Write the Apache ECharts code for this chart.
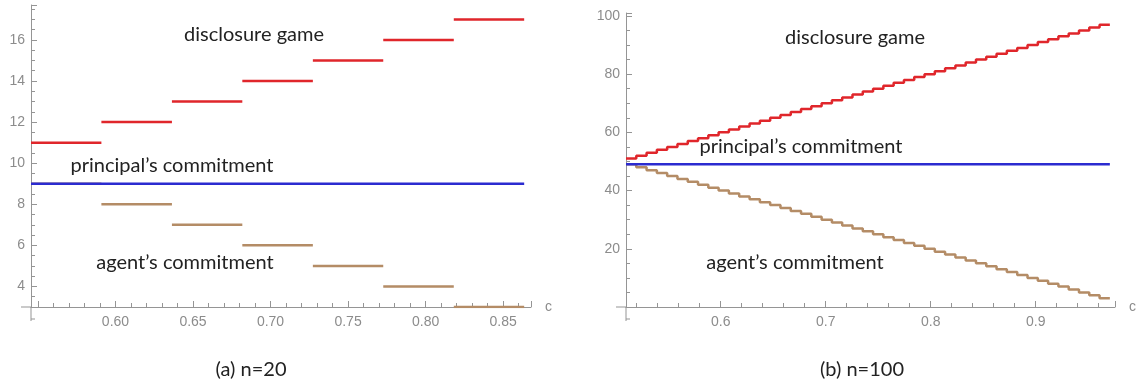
<!DOCTYPE html>
<html>
<head>
<meta charset="utf-8">
<script src="https://cdn.jsdelivr.net/npm/echarts@6/dist/echarts.min.js"></script>
<style>
  html, body { margin: 0; padding: 0; background: #fff; }
  #main { width: 1146px; height: 387px; }
</style>
</head>
<body>
<div id="main"></div>
<script>
// (a) n=20 : step breakpoints on c and the value held on each step
const cA = [0.5455, 0.5909, 0.6364, 0.6818, 0.7273, 0.7727, 0.8182, 0.8636];
const gameA = [11, 12, 13, 14, 15, 16, 17];
const agentA = [9, 8, 7, 6, 5, 4, 3];
const principalA = 9;

// (b) n=100
const cB = [0.5098, 0.5196, 0.5294, 0.5392, 0.5490, 0.5588, 0.5686, 0.5784, 0.5882, 0.5980,
  0.6078, 0.6176, 0.6275, 0.6373, 0.6471, 0.6569, 0.6667, 0.6765, 0.6863, 0.6961,
  0.7059, 0.7157, 0.7255, 0.7353, 0.7451, 0.7549, 0.7647, 0.7745, 0.7843, 0.7941,
  0.8039, 0.8137, 0.8235, 0.8333, 0.8431, 0.8529, 0.8627, 0.8725, 0.8824, 0.8922,
  0.9020, 0.9118, 0.9216, 0.9314, 0.9412, 0.9510, 0.9608, 0.9706];
const gameB = [51, 52, 53, 54, 55, 56, 57, 58, 59, 60, 61, 62, 63, 64, 65, 66, 67, 68, 69, 70,
  71, 72, 73, 74, 75, 76, 77, 78, 79, 80, 81, 82, 83, 84, 85, 86, 87, 88, 89, 90,
  91, 92, 93, 94, 95, 96, 97];
const agentB = [49, 48, 47, 46, 45, 44, 43, 42, 41, 40, 39, 38, 37, 36, 35, 34, 33, 32, 31, 30,
  29, 28, 27, 26, 25, 24, 23, 22, 21, 20, 19, 18, 17, 16, 15, 14, 13, 12, 11, 10,
  9, 8, 7, 6, 5, 4, 3];
const principalB = 49;

const xRangeA = [0.5455, 0.868];
const yRangeA = [3, 17.7];
const xRangeB = [0.5098, 0.9755];
const yRangeB = [0, 101];

const RED = '#e0262b';
const BLUE = '#2b2bd0';
const BROWN = '#b48c66';
const AXIS = '#959595';
const LABEL = '#8c8c8c';

// separate horizontal pieces, broken with '-' so nothing joins them
function pieces(c, vals) {
  const out = [];
  vals.forEach((v, i) => {
    out.push([c[i], v], [c[i + 1], v], [c[i + 1], '-']);
  });
  return out;
}
// continuous staircase
function stairs(c, vals) {
  const out = vals.map((v, i) => [c[i], v]);
  out.push([c[c.length - 1], vals[vals.length - 1]]);
  return out;
}

function xAxisOf(grid, range, split, minorSplit, fmt) {
  return {
    type: 'value', gridIndex: grid, min: range[0], max: range[1], splitNumber: split,
    name: 'c', nameLocation: 'end', nameGap: 14,
    nameTextStyle: { color: LABEL, fontSize: 14, fontFamily: 'Liberation Sans' },
    axisLine: { show: true, onZero: false, lineStyle: { color: AXIS, width: 1 } },
    axisTick: { show: true, inside: true, length: 6, lineStyle: { color: AXIS } },
    minorTick: { show: true, splitNumber: minorSplit, length: 4, lineStyle: { color: AXIS } },
    axisLabel: {
      color: LABEL, fontSize: 14, fontFamily: 'Liberation Sans', margin: 8,
      showMinLabel: false, showMaxLabel: false, formatter: fmt
    },
    splitLine: { show: false }
  };
}
function yAxisOf(grid, range, split) {
  return {
    type: 'value', gridIndex: grid, min: range[0], max: range[1], splitNumber: split,
    axisLine: { show: true, onZero: false, lineStyle: { color: AXIS, width: 1 } },
    axisTick: { show: true, inside: true, length: 6, lineStyle: { color: AXIS } },
    minorTick: { show: true, splitNumber: 4, length: 4, lineStyle: { color: AXIS } },
    axisLabel: {
      color: LABEL, fontSize: 14, fontFamily: 'Liberation Sans', margin: 6,
      showMinLabel: false, showMaxLabel: false
    },
    splitLine: { show: false }
  };
}
function lineOf(idx, data, color, step) {
  return {
    type: 'line', xAxisIndex: idx, yAxisIndex: idx, data: data,
    step: step || false, showSymbol: false, symbol: 'none', connectNulls: false,
    lineStyle: { color: color, width: 2.5 }, animation: false, silent: true
  };
}

const chart = echarts.init(document.getElementById('main'));
chart.setOption({
  animation: false,
  grid: [
    { left: 31, top: 5, width: 500, height: 302 },
    { left: 626, top: 13, width: 489, height: 294 }
  ],
  xAxis: [
    xAxisOf(0, xRangeA, 6, 5, v => (v < 0.58 ? '' : v.toFixed(2))),
    xAxisOf(1, xRangeB, 5, 5, v => v.toFixed(1))
  ],
  yAxis: [yAxisOf(0, yRangeA, 7), yAxisOf(1, yRangeB, 5)],
  series: [
    lineOf(0, pieces(cA, gameA), RED),
    lineOf(0, pieces(cA, agentA), BROWN),
    lineOf(0, [[cA[0], principalA], [cA[cA.length - 1], principalA]], BLUE),
    lineOf(1, stairs(cB, gameB), RED, 'end'),
    lineOf(1, stairs(cB, agentB), BROWN, 'end'),
    lineOf(1, [[cB[0], principalB], [cB[cB.length - 1], principalB]], BLUE)
  ]
});

// axes in the original run a little past the origin; add those stubs
const oA = chart.convertToPixel({ gridIndex: 0 }, [xRangeA[0], yRangeA[0]]);
const oB = chart.convertToPixel({ gridIndex: 1 }, [xRangeB[0], yRangeB[0]]);
function stubs(o) {
  const s = { stroke: AXIS, lineWidth: 1 };
  return [
    { type: 'line', shape: { x1: o[0], y1: o[1], x2: o[0], y2: o[1] + 14 }, style: s, silent: true },
    { type: 'line', shape: { x1: o[0], y1: o[1] + 12, x2: o[0] + 4, y2: o[1] + 12 }, style: s, silent: true },
    { type: 'line', shape: { x1: o[0] - 10, y1: o[1], x2: o[0], y2: o[1] }, style: s, silent: true }
  ];
}
function note(x, y, text, size) {
  return {
    type: 'text', x: x, y: y, silent: true,
    style: {
      text: text, fill: '#222', fontSize: size || 20, fontFamily: 'Lato',
      textAlign: 'center', textVerticalAlign: 'middle'
    }
  };
}
chart.setOption({
  graphic: [].concat(stubs(oA), stubs(oB), [
    note(254, 35, 'disclosure game'),
    note(172, 166, 'principal\u2019s commitment'),
    note(185, 263, 'agent\u2019s commitment'),
    note(855, 38, 'disclosure game'),
    note(801, 147, 'principal\u2019s commitment'),
    note(795, 263, 'agent\u2019s commitment'),
    note(251, 370, '(a) n=20'),
    note(862, 370, '(b) n=100')
  ])
});
</script>
</body>
</html>
